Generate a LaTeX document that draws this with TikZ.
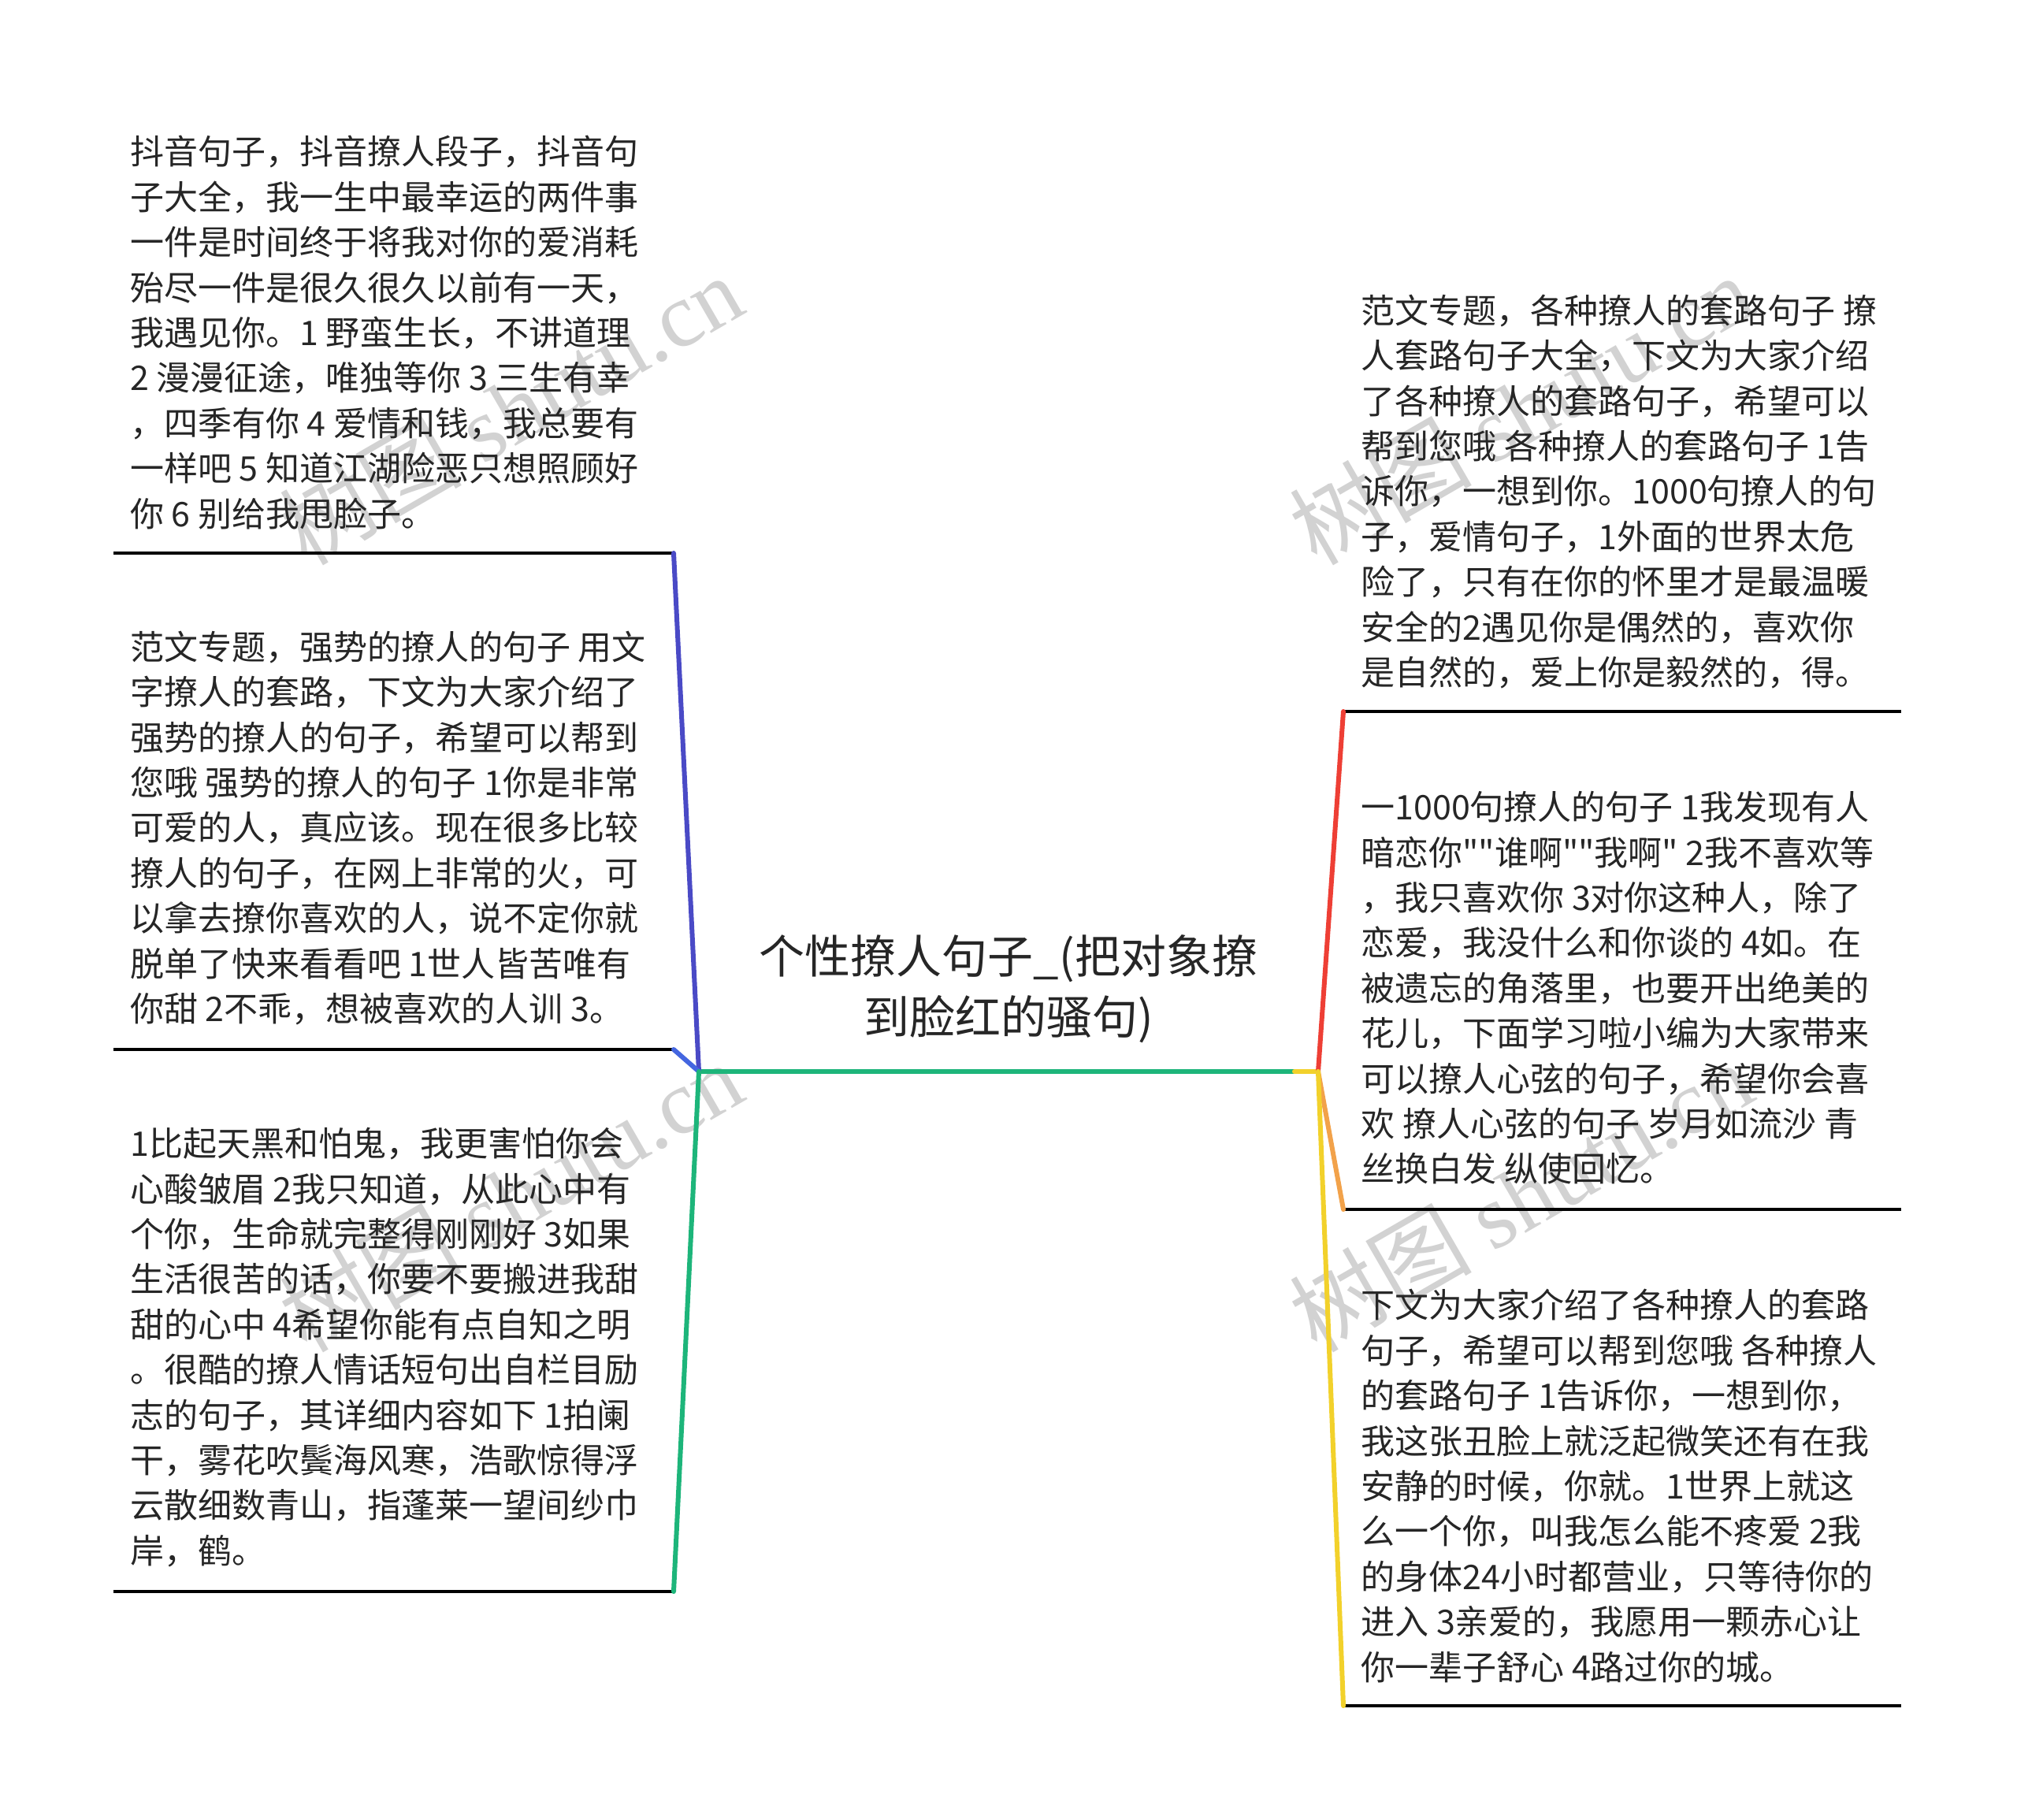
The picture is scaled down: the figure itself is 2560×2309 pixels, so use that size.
\documentclass[tikz,border=0pt]{standalone}
\usepackage{fontspec}
\setmainfont{Noto Sans CJK SC}[Ligatures=TeXOff]
\newfontfamily\wmlatin{Liberation Serif}
\newfontfamily\wmcjk{Noto Sans CJK SC}
\definecolor{textc}{HTML}{262626}
\definecolor{blueA}{HTML}{4A4AC6}
\definecolor{blueB}{HTML}{4466E0}
\definecolor{greenC}{HTML}{1DB57A}
\definecolor{redC}{HTML}{EE3F35}
\definecolor{orangeC}{HTML}{F2A24A}
\definecolor{yellowC}{HTML}{F2D12B}
\definecolor{wmc}{HTML}{D2D2D2}
\tikzset{
  txt/.style={anchor=west, align=left, inner sep=0pt, text=textc,
    font=\fontsize{21.5pt}{28.7pt}\selectfont},
  roottxt/.style={anchor=center, align=center, inner sep=0pt, text=textc,
    font=\fontsize{29pt}{38.5pt}\selectfont},
  uline/.style={line width=2pt, black},
  conn/.style={line width=3pt, line cap=round},
  wmark/.style={anchor=center, inner sep=0pt, text=wmc, rotate=30,
    font=\fontsize{58pt}{60pt}\selectfont}
}
\begin{document}
\begin{tikzpicture}[x=0.5pt, y=-0.5pt]
\useasboundingbox (0,0) rectangle (2560,2309);
\fill[white] (0,0) rectangle (2560,2309);
% watermarks
\node[wmark] (wm1) at (648,519) {\wmcjk 树图 \wmlatin shutu.cn};
\node[wmark] (wm2) at (1930,519) {\wmcjk 树图 \wmlatin shutu.cn};
\node[wmark] (wm3) at (648,1518) {\wmcjk 树图 \wmlatin shutu.cn};
\node[wmark] (wm4) at (1930,1518) {\wmcjk 树图 \wmlatin shutu.cn};
% root
\node[roottxt] (root) at (1280,1255) {个性撩人句子\_(把对象撩\\到脸红的骚句)};
% left texts
\node[txt] (tl) at (165,422) {抖音句子，抖音撩人段子，抖音句\\子大全，我一生中最幸运的两件事\\一件是时间终于将我对你的爱消耗\\殆尽一件是很久很久以前有一天，\\我遇见你。1 野蛮生长，不讲道理\\2 漫漫征途，唯独等你 3 三生有幸\\，四季有你 4 爱情和钱，我总要有\\一样吧 5 知道江湖险恶只想照顾好\\你 6 别给我甩脸子。};
\node[txt] (ml) at (165,1051) {范文专题，强势的撩人的句子 用文\\字撩人的套路，下文为大家介绍了\\强势的撩人的句子，希望可以帮到\\您哦 强势的撩人的句子 1你是非常\\可爱的人，真应该。现在很多比较\\撩人的句子，在网上非常的火，可\\以拿去撩你喜欢的人，说不定你就\\脱单了快来看看吧 1世人皆苦唯有\\你甜 2不乖，想被喜欢的人训 3。};
\node[txt] (bl) at (165,1710) {1比起天黑和怕鬼，我更害怕你会\\心酸皱眉 2我只知道，从此心中有\\个你，生命就完整得刚刚好 3如果\\生活很苦的话，你要不要搬进我甜\\甜的心中 4希望你能有点自知之明\\。很酷的撩人情话短句出自栏目励\\志的句子，其详细内容如下 1拍阑\\干，雾花吹鬓海风寒，浩歌惊得浮\\云散细数青山，指蓬莱一望间纱巾\\岸，鹤。};
% right texts
\node[txt] (tr) at (1727,624) {范文专题，各种撩人的套路句子 撩\\人套路句子大全，下文为大家介绍\\了各种撩人的套路句子，希望可以\\帮到您哦 各种撩人的套路句子 1告\\诉你，一想到你。1000句撩人的句\\子，爱情句子，1外面的世界太危\\险了，只有在你的怀里才是最温暖\\安全的2遇见你是偶然的，喜欢你\\是自然的，爱上你是毅然的，得。};
\node[txt] (mr) at (1727,1254) {一1000句撩人的句子 1我发现有人\\暗恋你""谁啊""我啊" 2我不喜欢等\\，我只喜欢你 3对你这种人，除了\\恋爱，我没什么和你谈的 4如。在\\被遗忘的角落里，也要开出绝美的\\花儿，下面学习啦小编为大家带来\\可以撩人心弦的句子，希望你会喜\\欢 撩人心弦的句子 岁月如流沙 青\\丝换白发 纵使回忆。};
\node[txt] (br) at (1727,1886) {下文为大家介绍了各种撩人的套路\\句子，希望可以帮到您哦 各种撩人\\的套路句子 1告诉你，一想到你，\\我这张丑脸上就泛起微笑还有在我\\安静的时候，你就。1世界上就这\\么一个你，叫我怎么能不疼爱 2我\\的身体24小时都营业，只等待你的\\进入 3亲爱的，我愿用一颗赤心让\\你一辈子舒心 4路过你的城。};
% coordinates
\coordinate (jl) at (887,1360);
\coordinate (jr) at (1673,1360);
\coordinate (gm) at (1643,1360);
\coordinate (tlE) at (855,702);
\coordinate (tlW) at (144,702);
\coordinate (mlE) at (855,1332);
\coordinate (mlW) at (144,1332);
\coordinate (blE) at (855,2020);
\coordinate (blW) at (144,2020);
\coordinate (trW) at (1705,903);
\coordinate (trE) at (2413,903);
\coordinate (mrW) at (1705,1535);
\coordinate (mrE) at (2413,1535);
\coordinate (brW) at (1705,2165);
\coordinate (brE) at (2413,2165);
% underlines
\draw[uline] (tlW) -- (tlE);
\draw[uline] (mlW) -- (mlE);
\draw[uline] (blW) -- (blE);
\draw[uline] (trW) -- (trE);
\draw[uline] (mrW) -- (mrE);
\draw[uline] (brW) -- (brE);
% connectors
\draw[conn, greenC] (jl) -- (gm);
\draw[conn, yellowC] (gm) -- (jr);
\draw[conn, blueA] (jl) -- (tlE);
\draw[conn, blueB] (jl) -- (mlE);
\draw[conn, greenC] (jl) -- (blE);
\draw[conn, redC] (jr) -- (trW);
\draw[conn, orangeC] (jr) -- (mrW);
\draw[conn, yellowC] (jr) -- (brW);
\end{tikzpicture}
\end{document}
